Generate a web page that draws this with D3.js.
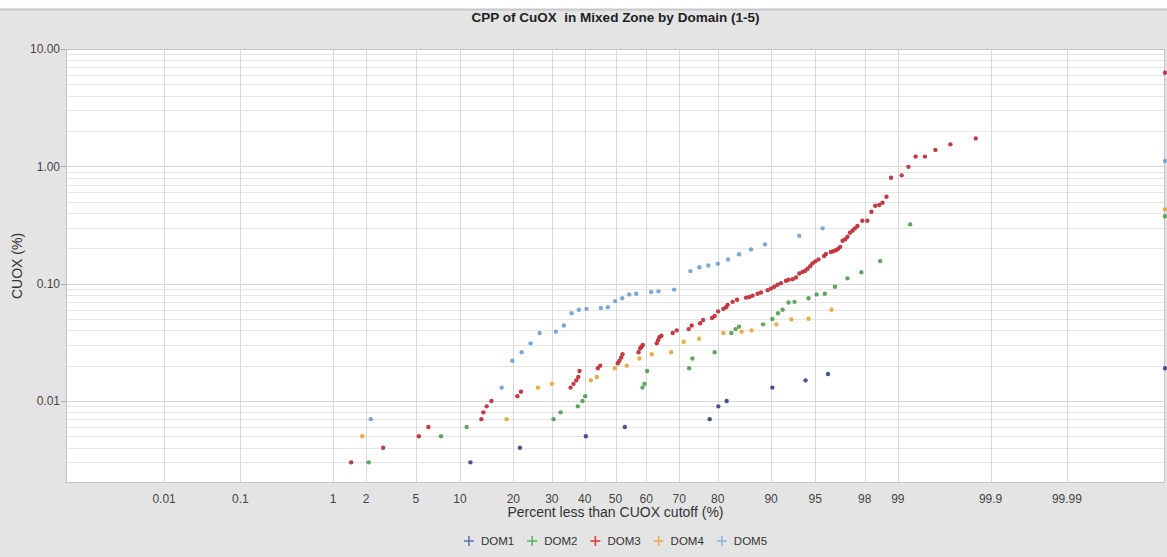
<!DOCTYPE html>
<html><head><meta charset="utf-8">
<script src="https://cdn.jsdelivr.net/npm/d3@7"></script>
<style>html,body{margin:0;padding:0;background:#fff}svg{display:block;font-family:"Liberation Sans",Arial,sans-serif}</style>
</head><body><svg id="c" width="1167" height="557"></svg>
<script>
// ---- data (percent less than cutoff, CUOX %) ----
const seriesNames = ["DOM1","DOM2","DOM3","DOM4","DOM5"];
const dom1Pct = [11.60,21.55,40.35,53.05,78.11,80.16,82.01,90.18,94.13,96.00,100];
const dom1Val = [0.003,0.004,0.005,0.006,0.007,0.009,0.010,0.013,0.015,0.017,0.019];
const dom2Pct = [2.10,7.53,11.01,30.49,32.54,37.82,39.30,40.15,58.79,59.43,60.29,72.79,73.68,79.30,83.01,83.88,84.56,88.79,90.18,90.97,91.57,92.30,92.99,94.41,95.12,95.77,96.47,97.20,97.86,98.54,99.24,100];
const dom2Val = [0.003,0.005,0.006,0.007,0.008,0.009,0.010,0.011,0.013,0.014,0.018,0.019,0.023,0.026,0.038,0.041,0.043,0.045,0.050,0.056,0.060,0.069,0.070,0.075,0.081,0.082,0.094,0.111,0.125,0.156,0.32,0.375];
const dom3Pct = [1.47,2.78,5.26,6.16,13.46,13.82,14.43,15.33,20.93,21.80,35.56,36.48,37.32,37.95,38.35,44.21,44.99,50.75,51.31,51.87,52.30,57.51,58.06,58.47,58.89,63.30,63.73,64.13,64.74,68.13,69.31,72.68,73.49,75.71,76.47,78.69,79.30,80.10,81.29,81.88,82.22,83.27,84.17,85.89,86.49,87.07,87.91,88.47,89.50,90.00,90.46,90.91,91.36,91.99,92.30,92.77,93.15,93.50,93.84,94.10,94.32,94.57,94.77,95.01,95.28,95.72,95.85,96.20,96.36,96.53,96.67,96.79,96.93,97.08,97.20,97.33,97.46,97.57,97.69,97.90,98.10,98.25,98.38,98.51,98.61,98.72,98.84,99.08,99.21,99.33,99.46,99.58,99.71,99.85,100];
const dom3Val = [0.003,0.004,0.005,0.006,0.007,0.008,0.009,0.010,0.011,0.012,0.013,0.014,0.015,0.016,0.018,0.019,0.020,0.021,0.022,0.0235,0.025,0.026,0.028,0.029,0.030,0.031,0.033,0.035,0.036,0.038,0.040,0.041,0.044,0.046,0.049,0.051,0.053,0.058,0.061,0.063,0.066,0.070,0.073,0.076,0.077,0.079,0.082,0.084,0.088,0.091,0.094,0.098,0.101,0.106,0.108,0.109,0.113,0.122,0.126,0.129,0.134,0.141,0.149,0.155,0.161,0.172,0.179,0.186,0.189,0.193,0.198,0.206,0.232,0.239,0.251,0.272,0.283,0.296,0.310,0.344,0.344,0.410,0.461,0.468,0.489,0.551,0.80,0.838,0.99,1.21,1.21,1.38,1.54,1.73,6.28];
const dom4Pct = [1.85,18.49,26.13,30.00,41.94,43.88,49.77,53.70,57.83,61.74,67.66,71.29,75.45,81.29,85.06,86.89,90.74,92.63,94.41,96.24,100];
const dom4Val = [0.005,0.007,0.013,0.014,0.015,0.016,0.019,0.020,0.023,0.025,0.026,0.032,0.034,0.038,0.039,0.040,0.045,0.0496,0.0502,0.060,0.43];
const dom5Pct = [2.19,17.41,19.76,21.96,24.21,26.59,31.16,33.53,35.87,38.13,40.57,45.19,47.47,49.90,52.20,54.49,56.76,61.55,63.83,68.54,73.14,75.53,77.79,80.05,82.31,84.56,86.79,89.10,93.50,95.60,100];
const dom5Val = [0.007,0.013,0.022,0.026,0.031,0.038,0.039,0.044,0.056,0.060,0.061,0.062,0.063,0.071,0.075,0.081,0.082,0.085,0.086,0.089,0.128,0.138,0.143,0.148,0.161,0.178,0.196,0.216,0.256,0.296,1.11];
const xTickLabels = ["0.01","0.1","1","2","5","10","20","30","40","50","60","70","80","90","95","98","99","99.9","99.99"];
const yTickLabels = ["10.00","1.00","0.10","0.01"];
const pointColors = ["#3b4c8e","#55a255","#c42e3a","#eaa83c","#72a4d8"];
const legendColors = ["#5b79aa","#5cb85c","#d9413b","#f0ad4e","#8cb6e2"];

const seriesPct = [dom1Pct,dom2Pct,dom3Pct,dom4Pct,dom5Pct];
const seriesVal = [dom1Val,dom2Val,dom3Val,dom4Val,dom5Val];

// inverse normal CDF (Acklam)
function probit(p){
  if(p<=0) return -Infinity; if(p>=1) return Infinity;
  const a=[-3.969683028665376e+01,2.209460984245205e+02,-2.759285104469687e+02,1.383577518672690e+02,-3.066479806614716e+01,2.506628277459239e+00];
  const b=[-5.447609879822406e+01,1.615858368580409e+02,-1.556989798598866e+02,6.680131188771972e+01,-1.328068155288572e+01];
  const c=[-7.784894002430293e-03,-3.223964580411365e-01,-2.400758277161838e+00,-2.549732539343734e+00,4.374664141464968e+00,2.938163982698783e+00];
  const d=[7.784695709041462e-03,3.224671290700398e-01,2.445134137142996e+00,3.754408661907416e+00];
  const pl=0.02425; let q,r;
  if(p<pl){q=Math.sqrt(-2*Math.log(p));return (((((c[0]*q+c[1])*q+c[2])*q+c[3])*q+c[4])*q+c[5])/((((d[0]*q+d[1])*q+d[2])*q+d[3])*q+1);}
  if(p<=1-pl){q=p-0.5;r=q*q;return (((((a[0]*r+a[1])*r+a[2])*r+a[3])*r+a[4])*r+a[5])*q/(((((b[0]*r+b[1])*r+b[2])*r+b[3])*r+b[4])*r+1);}
  q=Math.sqrt(-2*Math.log(1-p));return -(((((c[0]*q+c[1])*q+c[2])*q+c[3])*q+c[4])*q+c[5])/((((d[0]*q+d[1])*q+d[2])*q+d[3])*q+1);
}

const W=1167,H=557;
const L=66,R=1165,T=49,B=483;
const Z=4.527;
const xz = d3.scaleLinear().domain([-Z,Z]).range([L,R]).clamp(true);
const x = p => xz(probit(p/100));
const y = d3.scaleLog().domain([0.002,10]).range([B,T]);

const svg = d3.select("#c");
svg.append("rect").attr("width",W).attr("height",H).attr("fill","#ffffff");
svg.append("rect").attr("y",10).attr("width",W).attr("height",H-10).attr("fill","#e4e4e4");
svg.append("line").attr("x1",0).attr("x2",W).attr("y1",9.5).attr("y2",9.5).attr("stroke","#c3c7ce").attr("stroke-width",2);

svg.append("rect").attr("x",L).attr("y",T).attr("width",R-L).attr("height",B-T).attr("fill","#fff");

// y grid (minor + major)
const yt = y.ticks();
svg.append("g").selectAll("line").data(yt).join("line")
  .attr("x1",L).attr("x2",R).attr("y1",d=>Math.round(y(d))+0.5).attr("y2",d=>Math.round(y(d))+0.5)
  .attr("stroke",d=>Math.abs(Math.log10(d)-Math.round(Math.log10(d)))<1e-6?"#d8d8d8":"#e6e6e6").attr("stroke-width",1);
// x grid
const xt = xTickLabels.map(Number);
svg.append("g").selectAll("line").data(xt).join("line")
  .attr("x1",d=>Math.round(x(d))+0.5).attr("x2",d=>Math.round(x(d))+0.5).attr("y1",T).attr("y2",B)
  .attr("stroke","#dadada").attr("stroke-width",1);

svg.append("rect").attr("x",L+0.5).attr("y",T+0.5).attr("width",R-L-1).attr("height",B-T-1)
  .attr("fill","none").attr("stroke","#c4c4c4");

// y axis labels + ticks
const yv = yTickLabels.map(Number);
svg.append("g").selectAll("line").data(yv).join("line")
  .attr("x1",L-5).attr("x2",L).attr("y1",d=>Math.round(y(d))+0.5).attr("y2",d=>Math.round(y(d))+0.5).attr("stroke","#aaa");
svg.append("g").selectAll("text").data(yTickLabels).join("text")
  .attr("x",L-6).attr("y",d=>y(+d)).attr("dy","0.35em").attr("text-anchor","end")
  .attr("font-size",12).attr("fill","#444").text(d=>d);
// x axis labels
svg.append("g").selectAll("text").data(xTickLabels).join("text")
  .attr("x",d=>x(+d)).attr("y",503).attr("text-anchor","middle")
  .attr("font-size",12).attr("fill","#444").text(d=>d);

// titles
svg.append("text").attr("x",(L+R)/2).attr("y",22).attr("text-anchor","middle")
  .attr("font-size",13.5).attr("font-weight","bold").attr("fill","#222").style("white-space","pre")
  .text("CPP of CuOX  in Mixed Zone by Domain (1-5)");
svg.append("text").attr("x",(L+R)/2).attr("y",517).attr("text-anchor","middle")
  .attr("font-size",14).attr("fill","#333").text("Percent less than CUOX cutoff (%)");
svg.append("text").attr("transform",`translate(22,${(T+B)/2}) rotate(-90)`).attr("text-anchor","middle")
  .attr("font-size",14).attr("fill","#333").text("CUOX (%)");

// points
seriesNames.forEach((name,i)=>{
  const pts = seriesPct[i].map((p,j)=>({p, v:seriesVal[i][j]}));
  svg.append("g").selectAll("circle").data(pts).join("circle")
    .attr("cx",d=>x(d.p)).attr("cy",d=>y(d.v)).attr("r",2.2)
    .attr("fill",pointColors[i]).attr("fill-opacity",0.95);
});

// legend
const lg = svg.append("g");
let items = [];
seriesNames.forEach((n,i)=>{
  const g = lg.append("g");
  g.append("line").attr("x1",-5).attr("x2",5).attr("y1",0).attr("y2",0).attr("stroke",legendColors[i]).attr("stroke-width",1.6);
  g.append("line").attr("x1",0).attr("x2",0).attr("y1",-5).attr("y2",5).attr("stroke",legendColors[i]).attr("stroke-width",1.6);
  const t = g.append("text").attr("x",12).attr("dy","0.35em").attr("font-size",11.5).attr("fill","#333").text(n);
  items.push({g, w: 12 + t.node().getComputedTextLength()});
});
const gap = 18;
const total = d3.sum(items,d=>d.w) + gap*(items.length-1) + 5;
let cx = (L+R)/2 - total/2 + 5;
items.forEach(it=>{ it.g.attr("transform",`translate(${cx},541)`); cx += it.w + gap; });
</script></body></html>
